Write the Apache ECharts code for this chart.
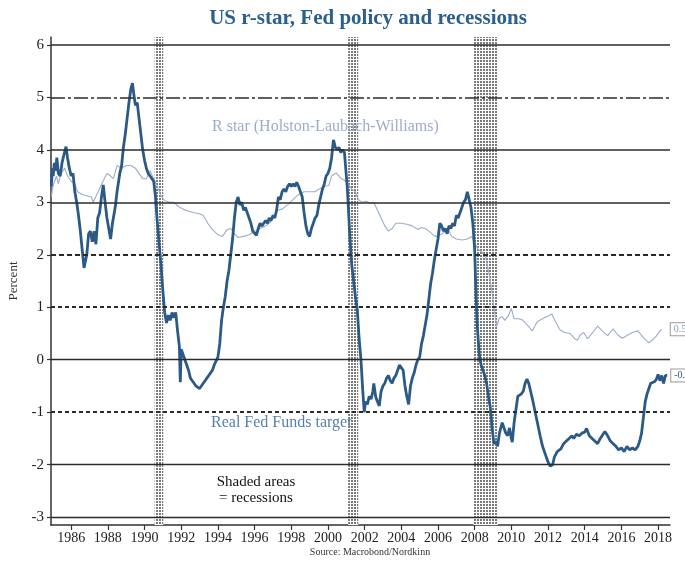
<!DOCTYPE html>
<html><head><meta charset="utf-8">
<script src="https://cdn.jsdelivr.net/npm/echarts@6/dist/echarts.min.js"></script>
<style>html,body{margin:0;padding:0;background:#fff}#c{width:685px;height:561px}</style>
</head><body><div id="c"></div>
<script>
// ---------- DATA ----------
const xTickYears = [1986,1988,1990,1992,1994,1996,1998,2000,2002,2004,2006,2008,2010,2012,2014,2016,2018];
const yTickValues = [-3,-2,-1,0,1,2,3,4,5,6];

const recessionStarts = [1990.55, 2001.1, 2007.93];
const recessionEnds   = [1991.02, 2001.65, 2009.27];

const fedDates = [
 1984.92,1984.97,1985.02,1985.08,1985.15,1985.22,1985.3,1985.4,1985.5,1985.6,1985.72,1985.8,1985.9,
 1986.0,1986.1,1986.2,1986.3,1986.4,1986.5,1986.6,1986.7,1986.78,1986.85,1986.95,
 1987.05,1987.15,1987.25,1987.35,1987.45,1987.55,1987.65,1987.75,1987.85,1987.95,
 1988.05,1988.15,1988.25,1988.4,1988.5,1988.65,1988.75,1988.85,1988.95,
 1989.05,1989.15,1989.25,1989.34,1989.42,1989.5,1989.6,1989.7,1989.8,1989.9,
 1990.0,1990.1,1990.2,1990.3,1990.4,1990.5,1990.6,1990.7,1990.8,1990.9,
 1991.0,1991.1,1991.2,1991.3,1991.4,1991.5,1991.6,1991.7,1991.8,1991.9,1991.95,
 1992.0,1992.1,1992.2,1992.3,1992.4,1992.5,1992.6,1992.7,1992.8,1992.9,
 1993.0,1993.1,1993.2,1993.3,1993.4,1993.5,1993.6,1993.7,1993.8,1993.9,
 1994.0,1994.1,1994.2,1994.3,1994.4,1994.5,1994.6,1994.7,1994.8,1994.9,
 1995.0,1995.1,1995.2,1995.3,1995.4,1995.5,1995.6,1995.7,1995.8,1995.9,
 1996.0,1996.1,1996.2,1996.3,1996.4,1996.5,1996.6,1996.7,1996.8,1996.9,
 1997.0,1997.1,1997.2,1997.3,1997.4,1997.5,1997.6,1997.7,1997.8,1997.9,
 1998.0,1998.1,1998.2,1998.3,1998.4,1998.5,1998.6,1998.7,1998.8,1998.9,
 1999.0,1999.1,1999.2,1999.3,1999.4,1999.5,1999.6,1999.7,1999.8,1999.9,
 2000.0,2000.1,2000.2,2000.3,2000.4,2000.5,2000.6,2000.7,2000.8,2000.9,
 2001.0,2001.05,2001.1,2001.2,2001.3,2001.4,2001.5,2001.6,2001.7,2001.8,2001.9,2001.98,
 2002.05,2002.15,2002.25,2002.35,2002.45,2002.5,2002.6,2002.7,2002.8,2002.9,
 2003.0,2003.1,2003.2,2003.3,2003.4,2003.5,2003.6,2003.7,2003.8,2003.9,
 2004.0,2004.1,2004.2,2004.3,2004.4,2004.5,2004.6,2004.7,2004.8,2004.9,
 2005.0,2005.1,2005.2,2005.3,2005.4,2005.5,2005.6,2005.7,2005.8,2005.9,
 2006.0,2006.1,2006.2,2006.3,2006.4,2006.5,2006.6,2006.7,2006.8,2006.9,
 2007.0,2007.1,2007.2,2007.3,2007.4,2007.5,2007.6,2007.7,2007.8,2007.9,
 2008.0,2008.05,2008.1,2008.15,2008.25,2008.35,2008.45,2008.55,2008.65,2008.75,2008.85,2008.95,
 2009.05,2009.15,2009.25,2009.35,2009.5,2009.6,2009.7,2009.8,2009.9,
 2010.0,2010.05,2010.15,2010.25,2010.35,2010.45,2010.55,2010.65,2010.75,2010.85,2010.95,
 2011.05,2011.15,2011.3,2011.45,2011.6,2011.7,2011.85,
 2012.0,2012.13,2012.25,2012.35,2012.5,2012.7,2012.85,
 2013.0,2013.15,2013.3,2013.4,2013.55,2013.7,2013.85,
 2014.0,2014.1,2014.25,2014.4,2014.55,2014.7,2014.85,
 2015.0,2015.1,2015.25,2015.4,2015.55,2015.7,2015.85,
 2016.0,2016.15,2016.3,2016.45,2016.6,2016.75,2016.9,
 2017.0,2017.1,2017.2,2017.3,2017.4,2017.5,2017.6,2017.7,2017.8,2017.9,
 2018.0,2018.1,2018.2,2018.3,2018.4,2018.5
];
const fedValues = [
 3.3,3.65,3.5,3.75,3.6,3.85,3.55,3.5,3.75,3.9,4.06,3.85,3.65,
 3.5,3.55,3.2,3.0,2.75,2.45,2.1,1.75,1.72,2.0,2.4,
 2.45,2.25,2.45,2.2,2.7,2.8,3.1,3.33,3.0,2.7,
 2.5,2.3,2.6,2.9,3.2,3.55,3.7,4.05,4.3,
 4.6,4.9,5.15,5.27,5.05,4.85,4.9,4.6,4.3,4.0,
 3.8,3.65,3.55,3.5,3.45,3.4,3.1,2.6,2.2,1.8,
 1.3,0.9,0.7,0.85,0.75,0.9,0.8,0.9,0.55,0.25,-0.43,
 0.2,0.1,0.0,-0.1,-0.2,-0.35,-0.4,-0.45,-0.5,-0.48,
 -0.55,-0.5,-0.45,-0.4,-0.35,-0.3,-0.25,-0.2,-0.1,-0.07,
 0.05,0.3,0.75,1.0,1.2,1.5,1.7,2.0,2.3,2.7,
 3.0,3.1,2.95,3.0,2.85,2.9,2.8,2.7,2.6,2.45,
 2.45,2.37,2.5,2.6,2.55,2.6,2.65,2.6,2.7,2.65,
 2.75,2.7,2.85,3.1,3.05,3.2,3.25,3.2,3.3,3.35,
 3.3,3.35,3.3,3.38,3.3,3.2,3.1,2.8,2.55,2.4,
 2.35,2.5,2.6,2.7,2.75,2.95,3.1,3.25,3.35,3.5,
 3.55,3.65,3.85,4.19,4.05,4.0,4.05,3.95,4.0,3.95,
 3.95,3.3,3.0,2.3,1.8,1.5,1.2,0.95,0.4,0.0,-0.6,-1.0,
 -0.8,-0.85,-0.7,-0.75,-0.6,-0.45,-0.7,-0.8,-0.88,-0.6,
 -0.5,-0.45,-0.35,-0.3,-0.4,-0.45,-0.35,-0.3,-0.2,-0.1,
 -0.07,-0.2,-0.5,-0.7,-0.85,-0.5,-0.35,-0.25,-0.1,0.0,
 0.05,0.3,0.45,0.65,0.85,1.15,1.45,1.65,1.9,2.1,
 2.3,2.6,2.55,2.45,2.5,2.4,2.55,2.5,2.6,2.55,
 2.75,2.7,2.8,2.9,3.0,3.05,3.2,3.05,2.9,2.6,
 2.1,1.5,1.0,0.6,0.1,-0.1,-0.2,-0.3,-0.45,-0.7,-0.9,-1.3,
 -1.6,-1.55,-1.65,-1.4,-1.2,-1.2,-1.4,-1.45,-1.3,
 -1.5,-1.57,-1.2,-0.95,-0.7,-0.68,-0.65,-0.6,-0.45,-0.37,-0.45,
 -0.6,-0.75,-1.0,-1.25,-1.5,-1.65,-1.8,
 -1.95,-2.03,-2.0,-1.85,-1.75,-1.7,-1.6,
 -1.55,-1.5,-1.45,-1.5,-1.42,-1.45,-1.4,
 -1.38,-1.31,-1.45,-1.5,-1.55,-1.6,-1.5,
 -1.42,-1.37,-1.45,-1.55,-1.6,-1.65,-1.72,
 -1.68,-1.75,-1.65,-1.72,-1.68,-1.72,-1.65,
 -1.55,-1.4,-1.1,-0.8,-0.65,-0.55,-0.45,-0.43,-0.42,-0.38,
 -0.28,-0.4,-0.3,-0.45,-0.3,-0.3
];

const rstarDates = [
 1984.92,1985.0,1985.2,1985.3,1985.45,1985.65,1985.8,
 1986.0,1986.2,1986.35,1986.6,1986.9,
 1987.1,1987.2,1987.4,1987.6,1987.8,1987.95,
 1988.15,1988.3,1988.5,1988.75,
 1989.0,1989.25,1989.5,1989.7,1989.9,
 1990.1,1990.3,1990.5,1990.7,1990.9,
 1991.1,1991.4,1991.6,1991.85,
 1992.1,1992.4,1992.7,
 1993.0,1993.2,1993.45,1993.7,
 1994.0,1994.25,1994.5,1994.7,1994.9,
 1995.1,1995.4,1995.7,
 1996.0,1996.3,1996.6,1996.85,
 1997.05,1997.25,1997.5,1997.8,
 1998.1,1998.4,1998.7,
 1999.0,1999.3,1999.5,1999.8,
 2000.05,2000.2,2000.45,2000.7,2000.9,
 2001.1,2001.3,2001.5,2001.65,2001.85,
 2002.1,2002.3,2002.5,2002.7,2002.9,
 2003.1,2003.3,2003.5,2003.7,
 2004.0,2004.3,2004.6,2004.9,
 2005.1,2005.3,2005.5,2005.8,
 2006.0,2006.3,2006.55,2006.75,
 2007.0,2007.3,2007.6,2007.85,
 2008.0,2008.2,2008.4,2008.6,2008.75,2008.9,
 2009.05,2009.2,2009.35,2009.5,2009.65,2009.85,
 2010.0,2010.15,2010.4,2010.6,2010.9,
 2011.15,2011.4,2011.6,2011.8,
 2012.0,2012.2,2012.45,2012.65,2012.9,
 2013.2,2013.45,2013.6,2013.75,2013.95,
 2014.15,2014.4,2014.7,2014.95,
 2015.25,2015.55,2015.8,
 2016.05,2016.3,2016.6,2016.9,
 2017.2,2017.5,2017.7,2017.9,
 2018.1,2018.2
];
const rstarValues = [
 3.11,3.3,3.5,3.35,3.55,3.65,3.5,
 3.4,3.35,3.2,3.15,3.12,
 3.1,3.0,3.15,3.3,3.45,3.55,
 3.5,3.45,3.7,3.65,
 3.7,3.7,3.65,3.55,3.45,
 3.45,3.6,3.45,3.3,3.12,
 3.03,3.0,3.0,2.92,
 2.87,2.83,2.8,
 2.78,2.75,2.6,2.48,
 2.38,2.35,2.48,2.5,2.4,
 2.33,2.35,2.38,
 2.45,2.5,2.55,2.62,
 2.72,2.85,2.87,2.95,
 3.05,3.15,3.2,
 3.2,3.2,3.25,3.3,
 3.32,3.5,3.56,3.46,3.42,
 3.35,3.25,3.2,3.05,3.0,
 3.02,2.98,3.0,2.85,2.7,
 2.55,2.45,2.5,2.6,
 2.6,2.58,2.55,2.48,
 2.52,2.5,2.45,2.36,
 2.35,2.42,2.48,2.35,
 2.3,2.28,2.3,2.35,
 2.22,2.1,2.05,1.95,1.7,1.4,
 1.0,0.63,0.8,0.82,0.75,0.85,
 0.98,0.78,0.78,0.76,0.65,
 0.55,0.72,0.76,0.8,
 0.83,0.87,0.7,0.57,0.52,
 0.5,0.4,0.37,0.47,0.52,
 0.4,0.5,0.64,0.55,
 0.46,0.59,0.47,
 0.41,0.46,0.52,0.55,
 0.42,0.32,0.38,0.45,
 0.55,0.58
];

// ---------- CHART ----------
const SERIF = '"Liberation Serif", "DejaVu Serif", serif';
const fedData = fedDates.map((d, i) => [d, fedValues[i]]);
const rstarData = rstarDates.map((d, i) => [d, rstarValues[i]]);

const pat = document.createElement('canvas');
pat.width = 3; pat.height = 3;
const pc = pat.getContext('2d');
pc.fillStyle = '#ffffff'; pc.fillRect(0, 0, 3, 3);
pc.fillStyle = '#7a7a7a'; pc.fillRect(0, 0, 2, 2);

const gridStyles = {
  '6': {type: 'solid', width: 1.5},
  '5': {type: [14, 3, 3, 3], width: 1.5},
  '4': {type: 'solid', width: 1.5},
  '3': {type: 'solid', width: 1.5},
  '2': {type: [5, 3], width: 2.2},
  '1': {type: [4, 3], width: 1.8},
  '0': {type: 'solid', width: 1.3},
  '-1': {type: [4, 3], width: 1.8},
  '-2': {type: 'solid', width: 1.3},
  '-3': {type: 'solid', width: 1.3}
};

const chart = echarts.init(document.getElementById('c'), null, {renderer: 'canvas'});
chart.setOption({
  animation: false,
  backgroundColor: '#ffffff',
  grid: {left: 51, right: 15, top: 37, bottom: 36, containLabel: false, outerBoundsMode: 'none'},
  xAxis: {
    type: 'value', min: 1984.9, max: 2018.65,
    axisLine: {show: true, onZero: false, lineStyle: {color: '#333', width: 1.5}},
    axisTick: {show: true, length: 5, inside: false, customValues: xTickYears, lineStyle: {color: '#333', width: 1.2}},
    axisLabel: {customValues: xTickYears, formatter: v => String(Math.round(v)), color: '#222',
      fontFamily: SERIF, fontSize: 14, margin: 6},
    splitLine: {show: false}
  },
  yAxis: {
    type: 'value', min: -3.15, max: 6.15,
    name: 'Percent', nameLocation: 'middle', nameRotate: 90, nameGap: 31,
    nameTextStyle: {fontFamily: SERIF, fontSize: 13, color: '#333'},
    axisLine: {show: true, onZero: false, lineStyle: {color: '#333', width: 1.5}},
    axisTick: {show: true, length: 4, customValues: yTickValues, lineStyle: {color: '#333', width: 1.2}},
    axisLabel: {customValues: yTickValues, color: '#222', fontFamily: SERIF, fontSize: 15, margin: 7,
      formatter: v => String(Math.round(v))},
    splitLine: {show: false}
  },
  series: [
    {
      type: 'line', data: [], silent: true, z: 1,
      markArea: {
        silent: true,
        itemStyle: {color: {image: pat, repeat: 'repeat'}},
        data: recessionStarts.map((s, i) => [{xAxis: s}, {xAxis: recessionEnds[i]}])
      }
    },
    {
      type: 'line', data: [], silent: true, z: 2,
      markLine: {
        silent: true, symbol: ['none', 'none'], label: {show: false},
        emphasis: {disabled: true},
        data: yTickValues.map(v => ({yAxis: v, lineStyle: Object.assign({color: '#2b2b2b'}, gridStyles[String(v)])}))
      }
    },
    {
      name: 'R star', type: 'line', data: rstarData, z: 3,
      showSymbol: false, symbol: 'none', silent: true,
      lineStyle: {color: '#9dacca', width: 1.1},
      endLabel: {show: true, formatter: p => p.value[1].toFixed(2), color: '#7f97c4',
        fontSize: 10, fontFamily: SERIF, backgroundColor: '#fff', borderColor: '#9a9a9a', borderWidth: 1,
        padding: [1, 3], distance: 9}
    },
    {
      name: 'Real Fed Funds target', type: 'line', data: fedData, z: 4,
      showSymbol: false, symbol: 'none', silent: true,
      lineStyle: {color: '#2b5a86', width: 2.8},
      endLabel: {show: true, formatter: p => p.value[1].toFixed(2), color: '#2b5a86',
        fontSize: 10, fontFamily: SERIF, backgroundColor: '#fff', borderColor: '#9a9a9a', borderWidth: 1,
        padding: [1, 3], distance: 4}
    }
  ],
  graphic: [
    {type: 'text', x: 368, y: 8, z: 10,
      style: {text: 'US r-star, Fed policy and recessions', fill: '#2b5f8e', align: 'center',
        font: 'bold 21px ' + SERIF}},
    {type: 'text', left: 212, top: 119, z: 10,
      style: {text: 'R star (Holston-Laubach-Williams)', fill: '#9dacca', font: '16px ' + SERIF}},
    {type: 'text', left: 211, top: 415, z: 10,
      style: {text: 'Real Fed Funds target', fill: '#5580ad', font: '16px ' + SERIF}},
    {type: 'text', x: 256, y: 474, z: 10,
      style: {text: 'Shaded areas\n= recessions', fill: '#111', font: '15px ' + SERIF, align: 'center', lineHeight: 16}},
    {type: 'text', x: 370, y: 547, z: 10,
      style: {text: 'Source: Macrobond/Nordkinn', fill: '#333', align: 'center', font: '10px ' + SERIF}}
  ]
});
</script></body></html>
